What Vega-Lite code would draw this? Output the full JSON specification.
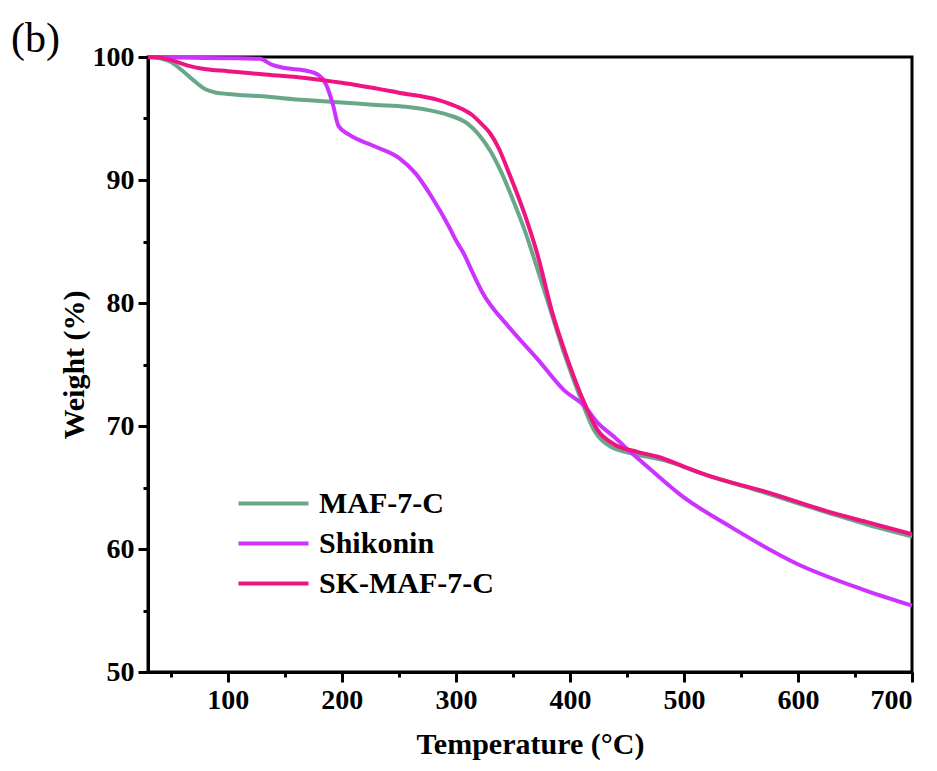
{
  "$schema": "https://vega.github.io/schema/vega-lite/v6.json",
  "width": 764,
  "height": 615,
  "autosize": {"type": "none"},
  "padding": {"left": 148, "top": 57, "right": 25, "bottom": 99},
  "background": "white",
  "title": {"text": "(b)", "anchor": "start", "frame": "group", "font": "Liberation Serif", "fontSize": 42, "fontWeight": "normal", "color": "black", "baseline": "alphabetic", "offset": 0, "dx": -137, "dy": 51},
  "config": {
    "view": {"stroke": "black", "strokeWidth": 3},
    "axis": {
      "domainColor": "black", "domainWidth": 3, "tickColor": "black", "tickWidth": 3,
      "labelFont": "Liberation Serif", "labelFontWeight": "bold", "labelFontSize": 28, "labelColor": "black",
      "titleFont": "Liberation Serif", "titleFontWeight": "bold", "titleFontSize": 30, "titleColor": "black",
      "grid": false
    }
  },
  "data": {"values": [
    {"T": 30, "W": 100, "s": "MAF-7-C"},
    {"T": 40, "W": 99.9, "s": "MAF-7-C"},
    {"T": 50, "W": 99.6, "s": "MAF-7-C"},
    {"T": 60, "W": 98.9, "s": "MAF-7-C"},
    {"T": 70, "W": 98.1, "s": "MAF-7-C"},
    {"T": 80, "W": 97.4, "s": "MAF-7-C"},
    {"T": 90, "W": 97.1, "s": "MAF-7-C"},
    {"T": 100, "W": 97.0, "s": "MAF-7-C"},
    {"T": 130, "W": 96.8, "s": "MAF-7-C"},
    {"T": 168, "W": 96.5, "s": "MAF-7-C"},
    {"T": 200, "W": 96.3, "s": "MAF-7-C"},
    {"T": 230, "W": 96.1, "s": "MAF-7-C"},
    {"T": 256, "W": 95.95, "s": "MAF-7-C"},
    {"T": 275, "W": 95.7, "s": "MAF-7-C"},
    {"T": 293, "W": 95.3, "s": "MAF-7-C"},
    {"T": 310, "W": 94.6, "s": "MAF-7-C"},
    {"T": 320, "W": 93.7, "s": "MAF-7-C"},
    {"T": 330, "W": 92.4, "s": "MAF-7-C"},
    {"T": 340, "W": 90.6, "s": "MAF-7-C"},
    {"T": 350, "W": 88.4, "s": "MAF-7-C"},
    {"T": 360, "W": 86.0, "s": "MAF-7-C"},
    {"T": 370, "W": 83.2, "s": "MAF-7-C"},
    {"T": 381, "W": 80.0, "s": "MAF-7-C"},
    {"T": 395, "W": 75.9, "s": "MAF-7-C"},
    {"T": 410, "W": 72.1, "s": "MAF-7-C"},
    {"T": 421, "W": 69.7, "s": "MAF-7-C"},
    {"T": 436, "W": 68.3, "s": "MAF-7-C"},
    {"T": 453, "W": 67.8, "s": "MAF-7-C"},
    {"T": 483, "W": 67.2, "s": "MAF-7-C"},
    {"T": 520, "W": 66.0, "s": "MAF-7-C"},
    {"T": 570, "W": 64.6, "s": "MAF-7-C"},
    {"T": 628, "W": 62.9, "s": "MAF-7-C"},
    {"T": 660, "W": 62.0, "s": "MAF-7-C"},
    {"T": 700, "W": 61.0, "s": "MAF-7-C"},
    {"T": 30, "W": 100, "s": "Shikonin"},
    {"T": 60, "W": 99.95, "s": "Shikonin"},
    {"T": 100, "W": 99.9, "s": "Shikonin"},
    {"T": 128, "W": 99.85, "s": "Shikonin"},
    {"T": 139, "W": 99.35, "s": "Shikonin"},
    {"T": 150, "W": 99.1, "s": "Shikonin"},
    {"T": 168, "W": 98.9, "s": "Shikonin"},
    {"T": 180, "W": 98.5, "s": "Shikonin"},
    {"T": 186, "W": 97.8, "s": "Shikonin"},
    {"T": 192, "W": 96.2, "s": "Shikonin"},
    {"T": 197, "W": 94.4, "s": "Shikonin"},
    {"T": 206, "W": 93.7, "s": "Shikonin"},
    {"T": 227, "W": 92.8, "s": "Shikonin"},
    {"T": 250, "W": 91.8, "s": "Shikonin"},
    {"T": 265, "W": 90.5, "s": "Shikonin"},
    {"T": 279, "W": 88.6, "s": "Shikonin"},
    {"T": 294, "W": 86.2, "s": "Shikonin"},
    {"T": 300, "W": 85.1, "s": "Shikonin"},
    {"T": 307, "W": 84.0, "s": "Shikonin"},
    {"T": 315, "W": 82.4, "s": "Shikonin"},
    {"T": 323, "W": 80.9, "s": "Shikonin"},
    {"T": 346, "W": 78.1, "s": "Shikonin"},
    {"T": 372, "W": 75.4, "s": "Shikonin"},
    {"T": 395, "W": 72.9, "s": "Shikonin"},
    {"T": 413, "W": 71.6, "s": "Shikonin"},
    {"T": 424, "W": 70.3, "s": "Shikonin"},
    {"T": 439, "W": 69.1, "s": "Shikonin"},
    {"T": 453, "W": 67.9, "s": "Shikonin"},
    {"T": 474, "W": 66.2, "s": "Shikonin"},
    {"T": 497, "W": 64.4, "s": "Shikonin"},
    {"T": 541, "W": 61.8, "s": "Shikonin"},
    {"T": 599, "W": 58.8, "s": "Shikonin"},
    {"T": 657, "W": 56.7, "s": "Shikonin"},
    {"T": 700, "W": 55.4, "s": "Shikonin"},
    {"T": 30, "W": 100, "s": "SK-MAF-7-C"},
    {"T": 40, "W": 99.95, "s": "SK-MAF-7-C"},
    {"T": 52, "W": 99.7, "s": "SK-MAF-7-C"},
    {"T": 65, "W": 99.3, "s": "SK-MAF-7-C"},
    {"T": 81, "W": 99.0, "s": "SK-MAF-7-C"},
    {"T": 100, "W": 98.85, "s": "SK-MAF-7-C"},
    {"T": 130, "W": 98.6, "s": "SK-MAF-7-C"},
    {"T": 168, "W": 98.3, "s": "SK-MAF-7-C"},
    {"T": 200, "W": 97.9, "s": "SK-MAF-7-C"},
    {"T": 250, "W": 97.1, "s": "SK-MAF-7-C"},
    {"T": 285, "W": 96.5, "s": "SK-MAF-7-C"},
    {"T": 300, "W": 96.0, "s": "SK-MAF-7-C"},
    {"T": 314, "W": 95.3, "s": "SK-MAF-7-C"},
    {"T": 322, "W": 94.6, "s": "SK-MAF-7-C"},
    {"T": 330, "W": 93.8, "s": "SK-MAF-7-C"},
    {"T": 338, "W": 92.5, "s": "SK-MAF-7-C"},
    {"T": 346, "W": 90.7, "s": "SK-MAF-7-C"},
    {"T": 360, "W": 87.3, "s": "SK-MAF-7-C"},
    {"T": 372, "W": 83.8, "s": "SK-MAF-7-C"},
    {"T": 384, "W": 79.4, "s": "SK-MAF-7-C"},
    {"T": 398, "W": 75.4, "s": "SK-MAF-7-C"},
    {"T": 413, "W": 71.8, "s": "SK-MAF-7-C"},
    {"T": 424, "W": 69.7, "s": "SK-MAF-7-C"},
    {"T": 439, "W": 68.5, "s": "SK-MAF-7-C"},
    {"T": 459, "W": 67.9, "s": "SK-MAF-7-C"},
    {"T": 477, "W": 67.5, "s": "SK-MAF-7-C"},
    {"T": 500, "W": 66.7, "s": "SK-MAF-7-C"},
    {"T": 520, "W": 66.0, "s": "SK-MAF-7-C"},
    {"T": 570, "W": 64.7, "s": "SK-MAF-7-C"},
    {"T": 628, "W": 63.0, "s": "SK-MAF-7-C"},
    {"T": 660, "W": 62.2, "s": "SK-MAF-7-C"},
    {"T": 700, "W": 61.2, "s": "SK-MAF-7-C"}
  ]},
  "layer": [
    {
      "mark": {"type": "line", "strokeWidth": 4, "interpolate": "monotone"},
      "encoding": {
        "x": {"field": "T", "type": "quantitative", "scale": {"domain": [30, 700], "nice": false, "zero": false},
              "axis": {"orient": "bottom", "values": [100, 200, 300, 400, 500, 600, 700], "tickSize": 10, "labelPadding": 4, "title": "Temperature (°C)", "titlePadding": 15}},
        "y": {"field": "W", "type": "quantitative", "scale": {"domain": [50, 100], "nice": false, "zero": false},
              "axis": {"orient": "left", "values": [50, 60, 70, 80, 90, 100], "tickSize": 10, "labelPadding": 4, "title": "Weight (%)", "titlePadding": 3}},
        "color": {"field": "s", "type": "nominal",
                  "scale": {"domain": ["MAF-7-C", "Shikonin", "SK-MAF-7-C"], "range": ["#68a888", "#cc33ff", "#f01482"]},
                  "legend": {"orient": "none", "legendX": 106, "legendY": 427, "title": null, "symbolType": "M-2,0H2", "symbolSize": 1225, "symbolStrokeWidth": 4, "symbolFillColor": "transparent",
                             "labelFont": "Liberation Serif", "labelFontWeight": "bold", "labelFontSize": 30, "labelColor": "black", "labelOffset": 26, "labelLimit": 400, "rowPadding": 5, "padding": 0}}
      }
    },
    {
      "mark": {"type": "line", "opacity": 0},
      "encoding": {
        "x": {"field": "T", "type": "quantitative", "axis": {"orient": "bottom", "values": [50, 150, 250, 350, 450, 550, 650], "tickSize": 5, "labels": false, "domain": false, "title": null}},
        "y": {"field": "W", "type": "quantitative", "axis": {"orient": "left", "values": [55, 65, 75, 85, 95], "tickSize": 5, "labels": false, "domain": false, "title": null}},
        "detail": {"field": "s", "type": "nominal"}
      }
    }
  ],
  "resolve": {"axis": {"x": "independent", "y": "independent"}}
}
